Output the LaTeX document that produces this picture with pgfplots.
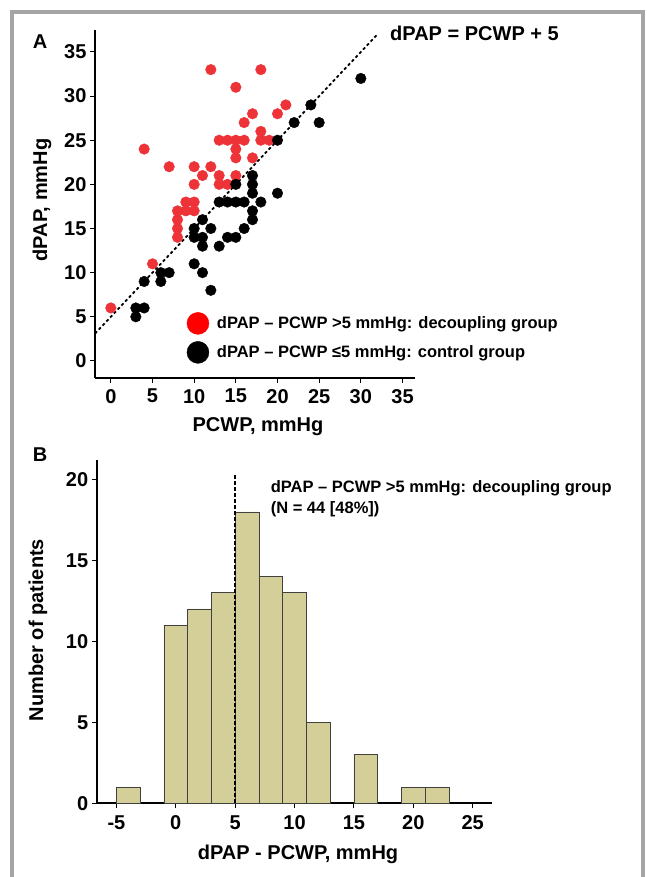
\documentclass[border=0pt]{standalone}
\usepackage{pgfplots}
\pgfplotsset{compat=1.18}
\usepackage{fontspec}
\setmainfont{Liberation Sans}
\definecolor{decoupred}{RGB}{237,50,56}
\definecolor{histfill}{RGB}{212,207,153}
\definecolor{framegray}{RGB}{165,165,165}
\newcommand{\lblfont}{\bfseries\fontsize{20}{22}\selectfont}
\newcommand{\legfont}{\bfseries\fontsize{16.5}{21}\selectfont}
\pgfplotsset{
  panel/.style={
    scale only axis, axis lines=left, axis line style={line width=1.8pt,-},
    tick align=outside, major tick length=5pt,
    tick style={black, line width=1pt},
    tick label style={font=\lblfont},
    /pgf/number format/assume math mode=true,
    clip=false,
  }
}
\begin{document}
\begin{tikzpicture}[x=1pt,y=1pt]
\useasboundingbox (0,0) rectangle (647,877);
\draw[framegray, line width=3.5pt] (12,-10) -- (12,865) -- (643,865) -- (643,-10);

% panel A
\node[font=\lblfont] at (40,835) {A};
\node[font=\lblfont, rotate=90] at (42,677) {dPAP, mmHg};
\node[font=\lblfont] at (258,450) {PCWP, mmHg};
\begin{axis}[panel, at={(95pt,499.3pt)}, anchor=south west,
  width=320pt, height=347.8pt,
  xmin=-1.9, xmax=36.5, ymin=-1.9, ymax=37.5,
  xtick={0,5,...,35}, ytick={0,5,...,35},
  xticklabel style={yshift=-3pt},
  legend cell align=left,
  legend style={draw=none, fill=none, at={(axis cs:8.75,5.75)}, anchor=north west,
    font=\legfont, row sep=7pt, /tikz/every odd column/.style={column sep=6pt}},
]
\addlegendimage{only marks, mark=*, mark size=11pt, color=red}
\addlegendimage{only marks, mark=*, mark size=11pt, color=black}
\addplot[black, line width=1.8pt, dash pattern=on 3pt off 2.5pt, forget plot]
  coordinates {(-1.9,3.1) (32,37)};
\addplot[only marks, mark=*, mark size=5.3pt, color=decoupred, forget plot] coordinates {
(0,6) (5,11) (4,24) (7,22) (10,22) (12,22) (11,21) (13,21) (15,21)
(10,20) (13,20) (14,20) (8,17) (9,18) (10,18) (9,17) (10,17) (8,16)
(8,15) (8,14) (12,33) (18,33) (15,31) (21,29) (17,28) (20,28) (16,27)
(18,26) (13,25) (14,25) (15,25) (16,25) (18,25) (19,25) (15,24) (15,23)
(17,23)
};
\addplot[only marks, mark=*, mark size=5.3pt, color=black, forget plot] coordinates {
(30,32) (24,29) (22,27) (25,27) (20,25) (17,21) (17,20) (15,20) (20,19)
(17,19) (13,18) (14,18) (15,18) (16,18) (18,18) (17,17) (17,16) (16,15)
(11,16) (10,15) (12,15) (10,14) (11,14) (14,14) (15,14) (11,13) (13,13)
(10,11) (11,10) (12,8) (6,10) (7,10) (6,9) (4,9) (3,6) (4,6) (3,5)
};
\node[font=\lblfont, anchor=west] at (axis cs:33.1,37.1) {dPAP = PCWP + 5};
\legend{dPAP – PCWP >5 mmHg: decoupling group, dPAP – PCWP ≤5 mmHg: control group}
\end{axis}

% panel B
\node[font=\lblfont] at (40,422) {B};
\node[font=\lblfont, rotate=90] at (38,247) {Number of patients};
\node[font=\lblfont] at (298,23) {dPAP - PCWP, mmHg};
\begin{axis}[panel, at={(96.7pt,73.7pt)}, anchor=south west,
  width=395pt, height=343.3pt,
  xmin=-6.66, xmax=26.6, ymin=0, ymax=21.2,
  xtick={-5,0,...,25}, ytick={0,5,...,20},
  xticklabel style={yshift=-4pt},
]
\addplot[ybar, bar width=2, bar shift=0pt, fill=histfill, draw=black!75, line width=0.6pt]
  coordinates {(-4,1) (0,11) (2,12) (4,13) (6,18) (8,14) (10,13) (12,5) (16,3) (20,1) (22,1)};
\addplot[black, line width=1.8pt, dash pattern=on 4pt off 2pt] coordinates {(5,0) (5,20.3)};
\node[font=\legfont, anchor=west, align=left] at (axis cs:7.7,18.8)
  {dPAP – PCWP >5 mmHg: decoupling group\\(N = 44 [48\%])};
\end{axis}
\end{tikzpicture}
\end{document}
